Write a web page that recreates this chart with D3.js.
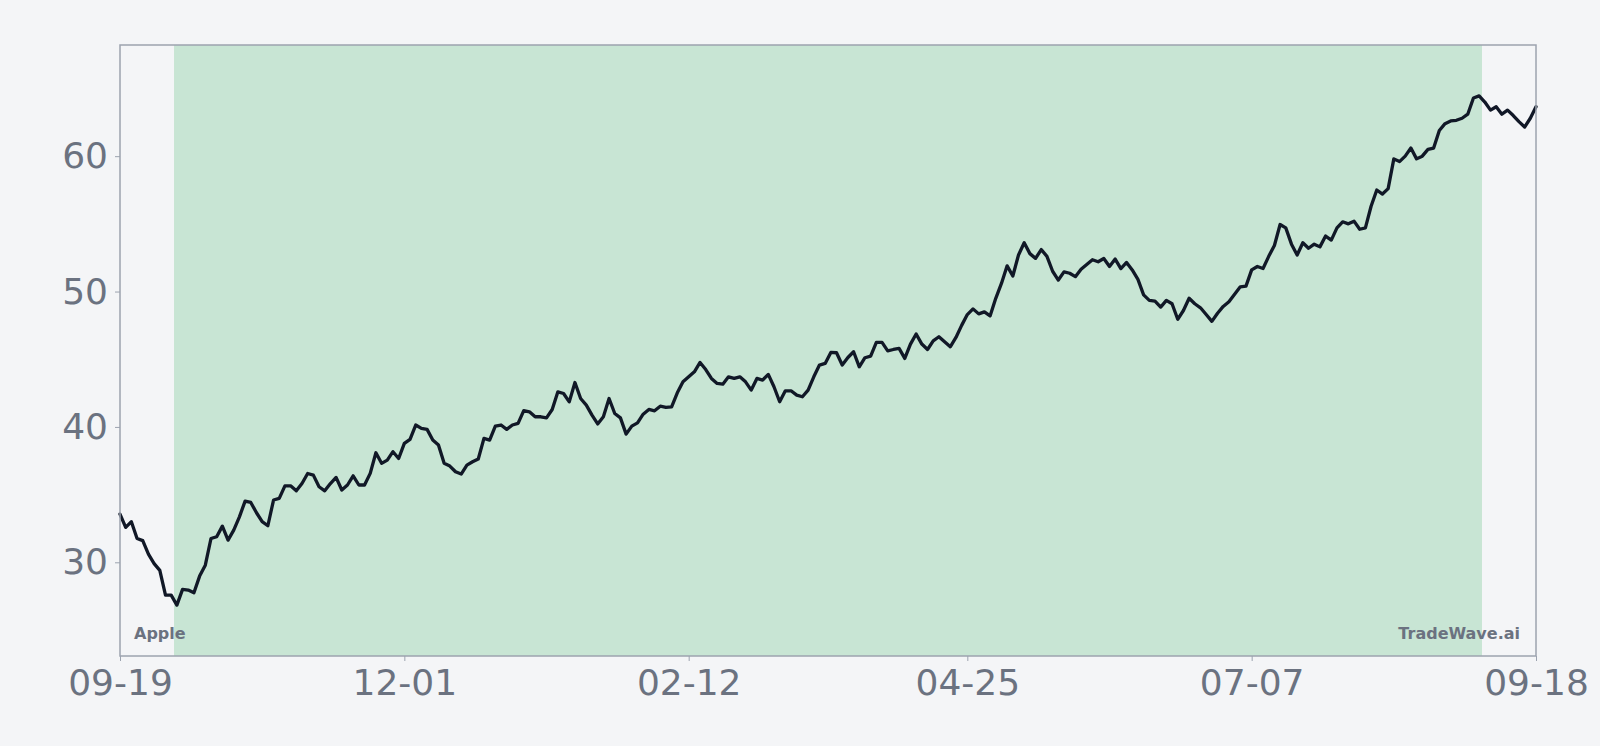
<!DOCTYPE html>
<html>
<head>
<meta charset="utf-8">
<script src="https://cdn.jsdelivr.net/npm/d3@7"></script>
<style>
  html, body { margin: 0; padding: 0; background: #f4f5f7; }
  svg { display: block; }
  text { font-family: "DejaVu Sans", sans-serif; }
</style>
</head>
<body>
<svg id="chart" width="1600" height="746"></svg>
<script>
// ---- data ----
const prices = [
  33.56, 32.58, 33.0, 31.76, 31.6, 30.6, 29.9, 29.4, 27.58, 27.58,
  26.84, 28.0, 27.95, 27.75, 28.98, 29.79, 31.76, 31.89, 32.67, 31.64,
  32.38, 33.36, 34.52, 34.42, 33.66, 33.0, 32.7, 34.6, 34.72, 35.65,
  35.65, 35.28, 35.82, 36.56, 36.44, 35.58, 35.28, 35.82, 36.27, 35.34,
  35.71, 36.39, 35.71, 35.71, 36.57, 38.09, 37.31, 37.55, 38.17, 37.67,
  38.78, 39.08, 40.14, 39.89, 39.82, 39.03, 38.66, 37.31, 37.11, 36.69,
  36.52, 37.18, 37.43, 37.63, 39.15, 39.03, 40.06, 40.14, 39.82, 40.14,
  40.26, 41.2, 41.12, 40.75, 40.75, 40.67, 41.29, 42.59, 42.47, 41.85,
  43.28, 42.1, 41.61, 40.87, 40.22, 40.75, 42.1, 40.99, 40.67, 39.47,
  40.06, 40.3, 40.94, 41.29, 41.19, 41.53, 41.44, 41.48, 42.52, 43.33,
  43.7, 44.07, 44.76, 44.24, 43.58, 43.21, 43.16, 43.7, 43.58, 43.7,
  43.33, 42.72, 43.58, 43.46, 43.88, 42.97, 41.86, 42.67, 42.67, 42.35,
  42.23, 42.72, 43.7, 44.57, 44.69, 45.5, 45.48, 44.57, 45.13, 45.55,
  44.44, 45.11, 45.23, 46.24, 46.24, 45.62, 45.72, 45.8, 45.06, 46.12,
  46.86, 46.12, 45.72, 46.36, 46.66, 46.29, 45.92, 46.61, 47.5, 48.3,
  48.72, 48.35, 48.5, 48.2, 49.5, 50.6, 51.9, 51.15, 52.7, 53.6,
  52.8, 52.45, 53.1, 52.6, 51.5, 50.85, 51.45, 51.35, 51.1, 51.65,
  52.0, 52.35, 52.2, 52.44, 51.85, 52.4, 51.7, 52.15, 51.6, 50.9,
  49.75, 49.35, 49.3, 48.85, 49.35, 49.1, 47.95, 48.6, 49.5, 49.1,
  48.8, 48.3, 47.8, 48.4, 48.9, 49.25, 49.8, 50.35, 50.4, 51.6,
  51.85, 51.7, 52.6, 53.4, 54.95, 54.7, 53.5, 52.7, 53.6, 53.2,
  53.5, 53.3, 54.1, 53.8, 54.7, 55.15, 55.0, 55.2, 54.6, 54.7,
  56.3, 57.5, 57.2, 57.6, 59.8, 59.6, 60.0, 60.6, 59.8, 60.0,
  60.5, 60.6, 61.9, 62.4, 62.6, 62.65, 62.8, 63.1, 64.3, 64.45,
  64.0, 63.4, 63.65, 63.1, 63.4, 63.0, 62.55, 62.15, 62.8, 63.65
];
const xTickIndex = [0, 50, 100, 149, 199, 249];
const xTickLabels = ["09-19", "12-01", "02-12", "04-25", "07-07", "09-18"];
const yTickValues = [30, 40, 50, 60];
const bandRange = [10, 239];           // highlighted index range
const leftLabel = "Apple";
const rightLabel = "TradeWave.ai";

// ---- layout ----
const W = 1600, H = 746;
const m = { left: 120, right: 64, top: 45, bottom: 90 };
const pw = W - m.left - m.right, ph = H - m.top - m.bottom;

const svg = d3.select("#chart");
svg.append("rect").attr("width", W).attr("height", H).attr("fill", "#f4f5f7");
const g = svg.append("g").attr("transform", `translate(${m.left},${m.top})`);

const x = d3.scaleLinear().domain([0, prices.length - 1]).range([0, pw]);
const [lo, hi] = d3.extent(prices);
const pad = (hi - lo) * 0.1;
const y = d3.scaleLinear().domain([lo - pad, hi + pad]).range([ph, 0]);

// band
g.append("rect")
  .attr("x", x(bandRange[0] - 0.5))
  .attr("width", x(bandRange[1] + 0.5) - x(bandRange[0] - 0.5))
  .attr("y", 0).attr("height", ph)
  .attr("fill", "#c8e5d4");

// line
g.append("path")
  .datum(prices)
  .attr("fill", "none")
  .attr("stroke", "#111827")
  .attr("stroke-width", 3.3)
  .attr("stroke-linejoin", "round")
  .attr("stroke-linecap", "round")
  .attr("d", d3.line().x((d, i) => x(i)).y(d => y(d)));

// frame
g.append("rect")
  .attr("x", 0).attr("y", 0).attr("width", pw).attr("height", ph)
  .attr("fill", "none").attr("stroke", "#9ca3af").attr("stroke-width", 1.5);

// axes
const xAxis = d3.axisBottom(x).tickValues(xTickIndex)
  .tickFormat((d, i) => xTickLabels[i]).tickSize(5).tickPadding(8);
const gx = g.append("g").attr("transform", `translate(0,${ph})`).call(xAxis);
gx.select(".domain").remove();
gx.selectAll("line").attr("stroke", "#9ca3af");
gx.selectAll("text").attr("fill", "#6b7280").style("font-size", "36px")
  .style("font-family", "DejaVu Sans");

const yAxis = d3.axisLeft(y).tickValues(yTickValues).tickSize(5).tickPadding(7);
const gy = g.append("g").call(yAxis);
gy.select(".domain").remove();
gy.selectAll("line").attr("stroke", "#9ca3af");
gy.selectAll("text").attr("fill", "#6b7280").style("font-size", "36px")
  .style("font-family", "DejaVu Sans");

// corner labels
g.append("text").attr("x", 14).attr("y", ph - 17)
  .attr("fill", "#6b7280").style("font-size", "16px").style("font-weight", "bold")
  .text(leftLabel);
g.append("text").attr("x", pw - 16).attr("y", ph - 17).attr("text-anchor", "end")
  .attr("fill", "#6b7280").style("font-size", "16px").style("font-weight", "bold")
  .text(rightLabel);
</script>
</body>
</html>
